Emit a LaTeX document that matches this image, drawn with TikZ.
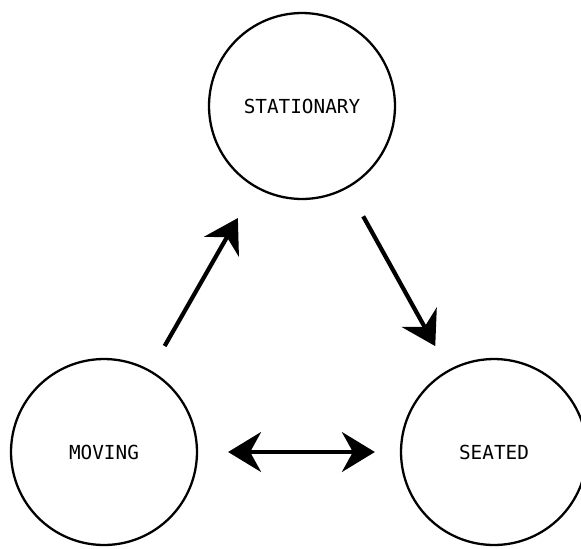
\documentclass[tikz,border=0pt]{standalone}
\usepackage{fontspec}
\setmonofont{DejaVu Sans Mono}
\usetikzlibrary{arrows.meta}

\begin{document}
\begin{tikzpicture}[
    x=0.02cm, y=-0.02cm,
    every node/.style={font=\ttfamily\fontsize{11}{13}\selectfont},
    state/.style={circle, draw, line width=1.3pt, minimum size=3.72cm, inner sep=0pt},
    arrow/.style={-{Stealth[length=0.66cm, width=0.8cm, inset=0.22cm]}, line width=2.4pt},
    both/.style={{Stealth[length=0.66cm, width=0.8cm, inset=0.22cm]}-{Stealth[length=0.66cm, width=0.8cm, inset=0.22cm]}, line width=1.8pt}
]
\useasboundingbox (0,0) rectangle (581,548);

% States
\node[state] (stationary) at (302,106) {STATIONARY};
\node[state] (moving) at (104,452) {MOVING};
\node[state] (seated) at (494,452) {SEATED};

% Arrows
\draw[arrow, shorten <=0.56cm, shorten >=0.7cm] (moving) -- (stationary);
\draw[arrow, shorten <=0.64cm, shorten >=0.54cm] (stationary) -- (seated);
\draw[both, shorten <=0.6cm, shorten >=0.5cm] (moving) -- (seated);

\end{tikzpicture}
\end{document}
